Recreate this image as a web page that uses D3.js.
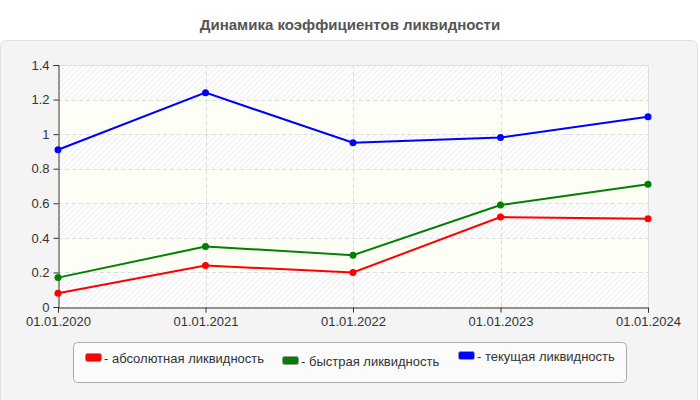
<!DOCTYPE html>
<html>
<head>
<meta charset="utf-8">
<script src="https://cdn.jsdelivr.net/npm/d3@7"></script>
<style>
body { margin: 0; background: #fff; font-family: "Liberation Sans", Arial, sans-serif; }
.grid line { stroke: #ddd; stroke-dasharray: 4,3; }
</style>
</head>
<body>
<div id="main"></div>
<script>
var dates = ["01.01.2020", "01.01.2021", "01.01.2022", "01.01.2023", "01.01.2024"];
var absolute = [0.08, 0.24, 0.2, 0.52, 0.51];
var quick = [0.17, 0.35, 0.3, 0.59, 0.71];
var current = [0.91, 1.24, 0.95, 0.98, 1.1];
var yTicks = [0, 0.2, 0.4, 0.6, 0.8, 1, 1.2, 1.4];
var seriesNames = ["- абсолютная ликвидность", "- быстрая ликвидность", "- текущая ликвидность"];
var seriesColors = ["#ff0000", "#008000", "#0000ff"];

var series = [absolute, quick, current].map(function (v, i) {
    return { name: seriesNames[i], color: seriesColors[i], values: v };
});

var W = 700, H = 400;
var m = { left: 58, right: 648, top: 65, bottom: 307 };

var svg = d3.select("#main").append("svg").attr("width", W).attr("height", H);

var defs = svg.append("defs");
var pat = defs.append("pattern")
    .attr("id", "hatch")
    .attr("patternUnits", "userSpaceOnUse")
    .attr("width", 4).attr("height", 4)
    .attr("patternTransform", "rotate(45)");
pat.append("rect").attr("width", 4).attr("height", 4).attr("fill", "#fdfdfd");
pat.append("line").attr("x1", 0).attr("y1", 0).attr("x2", 0).attr("y2", 4)
    .attr("stroke", "#e6e6e6").attr("stroke-width", 1.2);

// title
svg.append("text")
    .attr("x", 350).attr("y", 30)
    .attr("text-anchor", "middle")
    .attr("font-size", 15).attr("font-weight", "bold")
    .attr("fill", "#555")
    .text("Динамика коэффициентов ликвидности");

// panel
svg.append("rect")
    .attr("x", 0.5).attr("y", 40.5).attr("width", 697).attr("height", 370)
    .attr("rx", 6)
    .attr("fill", "#f4f4f4").attr("stroke", "#e0e0e0");

var x = d3.scalePoint().domain(dates).range([m.left, m.right]);
var y = d3.scaleLinear().domain([0, 1.4]).range([m.bottom, m.top]);

// alternating bands
var bands = d3.range(yTicks.length - 1);
svg.append("g").selectAll("rect")
    .data(bands)
    .enter()
    .append("rect")
    .attr("x", m.left)
    .attr("width", m.right - m.left)
    .attr("y", function (d) { return y(yTicks[d + 1]); })
    .attr("height", function (d) { return y(yTicks[d]) - y(yTicks[d + 1]); })
    .attr("fill", function (d) { return d % 2 === 0 ? "url(#hatch)" : "#fdfef6"; });

// grid
var grid = svg.append("g").attr("class", "grid");
grid.selectAll(".h")
    .data(yTicks.slice(1, -1))
    .enter()
    .append("line")
    .attr("x1", m.left).attr("x2", m.right)
    .attr("y1", function (d) { return Math.round(y(d)) + 0.5; })
    .attr("y2", function (d) { return Math.round(y(d)) + 0.5; });
grid.selectAll(".v")
    .data(dates.slice(1, -1))
    .enter()
    .append("line")
    .attr("y1", m.top).attr("y2", m.bottom)
    .attr("x1", function (d) { return Math.round(x(d)) + 0.5; })
    .attr("x2", function (d) { return Math.round(x(d)) + 0.5; });

// top/right border
svg.append("path")
    .attr("d", "M" + (m.left) + "," + (m.top + 0.5) + "H" + (m.right + 0.5) + "V" + m.bottom)
    .attr("fill", "none").attr("stroke", "#ddd");

// axes
var yAxis = svg.append("g")
    .attr("transform", "translate(" + (m.left + 0.5) + ",0)")
    .call(d3.axisLeft(y).tickValues(yTicks).tickSize(5).tickPadding(4)
        .tickFormat(function (d) { return String(d); }));
var xAxis = svg.append("g")
    .attr("transform", "translate(0," + (m.bottom + 0.5) + ")")
    .call(d3.axisBottom(x).tickSize(5).tickPadding(4));
[yAxis, xAxis].forEach(function (a) {
    a.select(".domain").attr("stroke", "#333");
    a.selectAll(".tick line").attr("stroke", "#333");
    a.selectAll("text").attr("font-size", 13).attr("fill", "#333")
        .attr("font-family", "Liberation Sans, Arial, sans-serif");
});

// lines
var line = d3.line()
    .x(function (d, i) { return x(dates[i]); })
    .y(function (d) { return y(d); });

series.forEach(function (s) {
    svg.append("path")
        .datum(s.values)
        .attr("d", line)
        .attr("fill", "none")
        .attr("stroke", s.color)
        .attr("stroke-width", 2);
    svg.append("g").selectAll("circle")
        .data(s.values)
        .enter()
        .append("circle")
        .attr("cx", function (d, i) { return x(dates[i]); })
        .attr("cy", function (d) { return y(d); })
        .attr("r", 3.5)
        .attr("fill", s.color);
});

// legend
svg.append("rect")
    .attr("x", 73.5).attr("y", 342.5).attr("width", 553).attr("height", 40)
    .attr("rx", 4)
    .attr("fill", "#fbfbfb").attr("stroke", "#aaa");

var legendX = [85, 282, 458];
var legendY = [358, 361, 356];
var lg = svg.append("g").selectAll("g")
    .data(series)
    .enter()
    .append("g")
    .attr("transform", function (d, i) { return "translate(" + legendX[i] + "," + legendY[i] + ")"; });
lg.append("rect")
    .attr("x", 0.5).attr("y", -4.5).attr("width", 16).attr("height", 8)
    .attr("rx", 2)
    .attr("fill", function (d) { return d.color; })
    .attr("stroke", "#999");
lg.append("text")
    .attr("x", 19).attr("y", 4.5)
    .attr("font-size", 13).attr("fill", "#333")
    .text(function (d) { return d.name; });
</script>
</body>
</html>
